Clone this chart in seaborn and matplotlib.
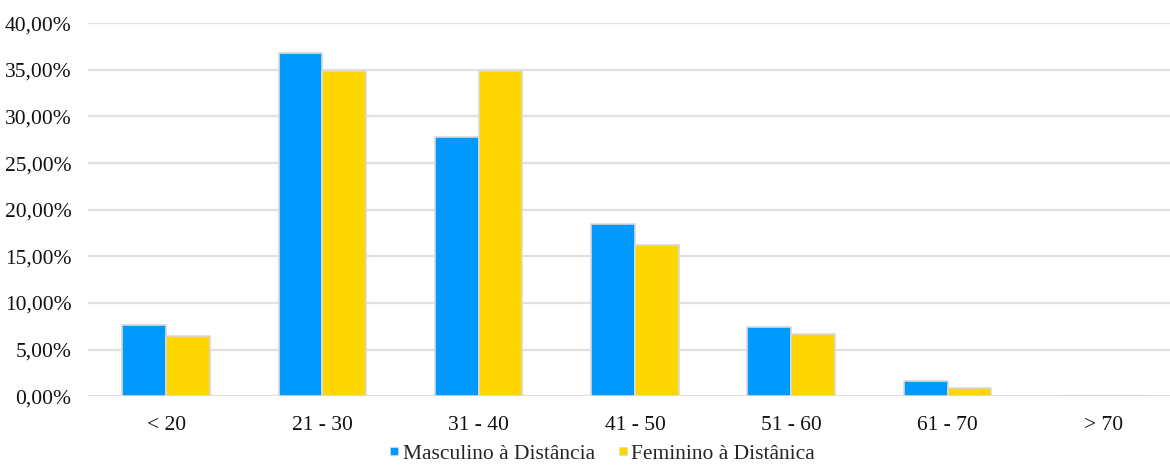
import matplotlib
matplotlib.use("Agg")
import matplotlib.pyplot as plt
from matplotlib.ticker import FuncFormatter
from matplotlib.lines import Line2D
import seaborn as sns
import pandas as pd

faixas = ["< 20", "21 - 30", "31 - 40", "41 - 50", "51 - 60", "61 - 70", "> 70"]
masculino = [7.6, 36.8, 27.8, 18.5, 7.4, 1.6, 0.0]
feminino = [6.4, 34.9, 34.9, 16.2, 6.7, 0.9, 0.0]
series = ["Masculino à Distância", "Feminino à Distânica"]
cores = ["#0099FF", "#FFD700"]

df = pd.DataFrame({
    "faixa": faixas * 2,
    "valor": [v / 100 for v in masculino] + [v / 100 for v in feminino],
    "serie": [series[0]] * len(faixas) + [series[1]] * len(faixas),
})

sns.set_theme(style="white")
plt.rcParams["font.family"] = ["Liberation Serif", "DejaVu Serif"]

fig = plt.figure(figsize=(11.7, 4.66), dpi=100)
# the plot area runs slightly past the right edge of the figure
ax = fig.add_axes([0.0752, 0.150, 0.935, 0.800])

sns.barplot(data=df, x="faixa", y="valor", hue="serie", order=faixas,
            hue_order=series, palette=cores, width=0.56, gap=0,
            edgecolor="#D9D9D9", linewidth=1.2, saturation=1, ax=ax,
            legend=False)

ax.set_ylim(0, 0.40)
ax.set_yticks([i * 0.05 for i in range(9)])
ax.yaxis.set_major_formatter(FuncFormatter(lambda v, p: f"{v*100:.2f}%".replace(".", ",")))
ax.grid(axis="y", color="#E3E0DD", linewidth=1.6)
ax.set_axisbelow(True)
for s in ax.spines.values():
    s.set_visible(False)
ax.tick_params(axis="both", length=0, labelsize=15.5, colors="#111111")
ax.tick_params(axis="y", pad=12)
ax.tick_params(axis="x", pad=14)
ax.set_xlabel("")
ax.set_ylabel("")
ax.set_xlim(-0.5, len(faixas) - 0.5)

handles = [Line2D([], [], marker="s", linestyle="", markersize=6,
                  markerfacecolor=c, markeredgecolor="#D9D9D9", markeredgewidth=0.5)
           for c in cores]
fig.legend(handles, series, loc="center", bbox_to_anchor=(0.513, 0.026),
           ncol=2, frameon=False, fontsize=15.5, handletextpad=0.0,
           columnspacing=0.9, handlelength=0.8, borderpad=0)

fig.savefig("out.png", dpi=100)
